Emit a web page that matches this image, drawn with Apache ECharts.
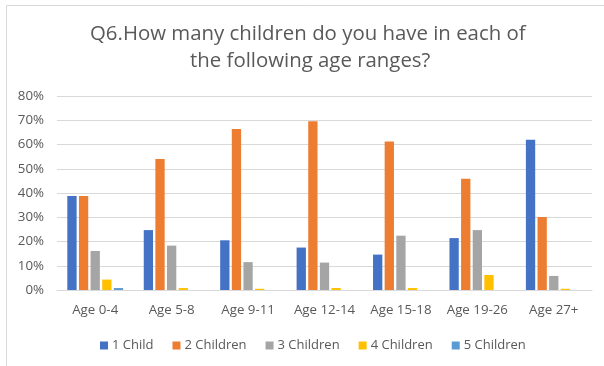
<!DOCTYPE html>
<html><head><meta charset="utf-8">
<script src="https://cdn.jsdelivr.net/npm/echarts@6/dist/echarts.min.js"></script>
<style>html,body{margin:0;padding:0;background:#fff}#c{width:604px;height:366px}</style>
</head><body><div id="c"></div>
<script>
const categories = ['Age 0-4','Age 5-8','Age 9-11','Age 12-14','Age 15-18','Age 19-26','Age 27+'];
const oneChild   = [38.8, 24.7, 20.5, 17.5, 14.6, 21.4, 62.0];
const twoChildren = [38.8, 54.0, 66.4, 69.6, 61.2, 45.9, 30.1];
const threeChildren = [16.1, 18.3, 11.5, 11.3, 22.4, 24.7, 5.8];
const fourChildren = [4.3, 0.8, 0.5, 0.8, 0.8, 6.2, 0.5];
const fiveChildren = [0.8, 0, 0, 0, 0, 0, 0];
const seriesNames = ['1 Child','2 Children','3 Children','4 Children','5 Children'];
const titleLines = ['Q6.How many children do you have in each of', 'the following age ranges?'];
const yTicks = [0,10,20,30,40,50,60,70,80];

const colors = ['#4472C4','#ED7D31','#A5A5A5','#FFC000','#5B9BD5'];
const data = [oneChild, twoChildren, threeChildren, fourChildren, fiveChildren];
const chart = echarts.init(document.getElementById('c'));
const font = 'Open Sans';
const titleStyle = {fontFamily:font, fontSize:20.4, fontWeight:'normal', color:'#595959', lineHeight:26};
chart.setOption({
  animation:false,
  color: colors,
  title:[
    {text:titleLines[0], left:90, top:21, padding:0, textStyle:titleStyle},
    {text:titleLines[1], left:190, top:48, padding:0, textStyle:titleStyle}
  ],
  legend:{
    bottom:9, left:95, itemWidth:8, itemHeight:8, itemGap:19,
    icon:'rect',
    textStyle:{fontFamily:font, fontSize:13, color:'#595959', padding:[0,0,0,-1]},
    data: seriesNames
  },
  grid:{left:57, right:12, top:96, bottom:76},
  xAxis:{
    type:'category', data:categories,
    axisLine:{lineStyle:{color:'#D9D9D9', width:1}},
    axisTick:{show:false},
    axisLabel:{fontFamily:font, fontSize:13.3, color:'#595959', margin:14, interval:0, hideOverlap:false}
  },
  yAxis:{
    type:'value', min:0, max:80, interval:10,
    axisLine:{show:false}, axisTick:{show:false},
    splitLine:{lineStyle:{color:'#D9D9D9', width:1}},
    axisLabel:{fontFamily:font, fontSize:13.3, color:'#595959', margin:13,
      formatter: v => yTicks.includes(v) ? v + '%' : ''}
  },
  series: seriesNames.map((n,i)=>({
    name:n, type:'bar', data:data[i],
    barGap:'25%', barCategoryGap:'27%'
  })),
  graphic:[
    {type:'line', shape:{x1:6.5,y1:5.5,x2:604,y2:5.5}, style:{stroke:'#D9D9D9', lineWidth:1}},
    {type:'line', shape:{x1:6.5,y1:5.5,x2:6.5,y2:366}, style:{stroke:'#D9D9D9', lineWidth:1}}
  ]
});
</script></body></html>
